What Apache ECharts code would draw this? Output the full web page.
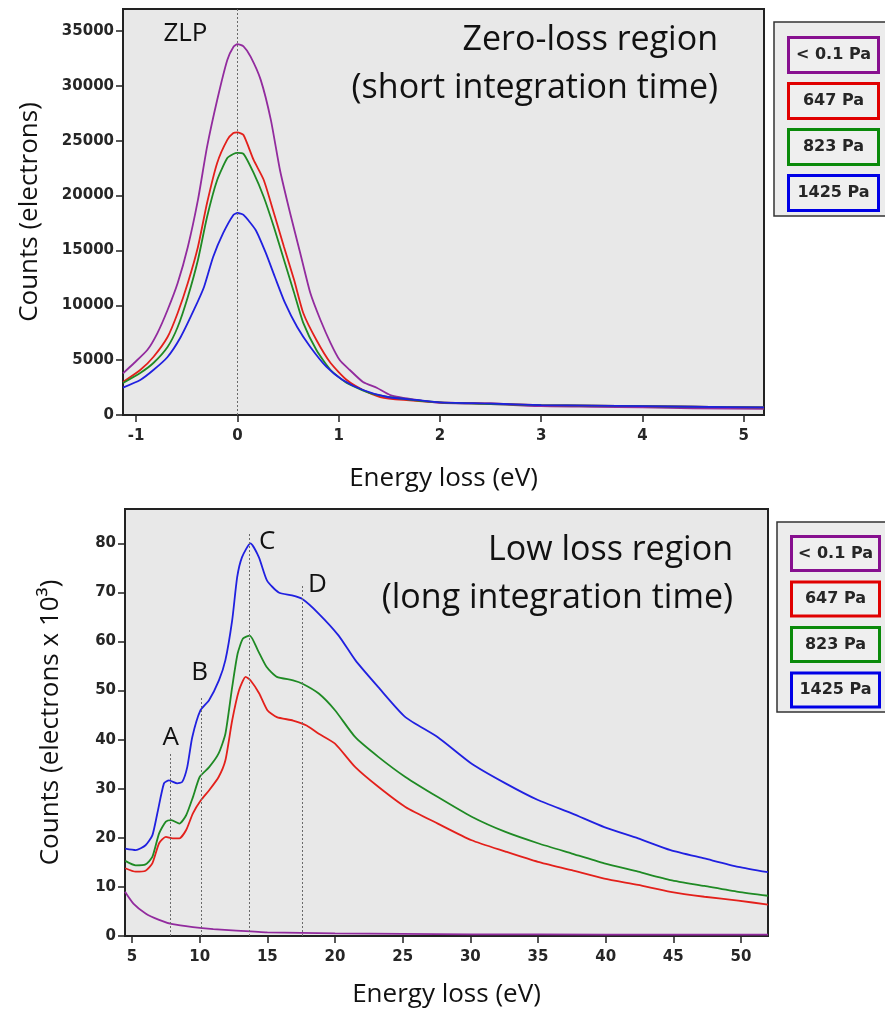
<!DOCTYPE html>
<html><head><meta charset="utf-8">
<script src="https://cdn.jsdelivr.net/npm/echarts@6/dist/echarts.min.js"></script>
<style>html,body{margin:0;padding:0;background:#fff}#c{width:885px;height:1010px}</style>
</head><body><div id="c"></div>
<script>
// ---------- data ----------
const seriesNames = ['< 0.1 Pa', '647 Pa', '823 Pa', '1425 Pa'];
const lineColors = ['#922b9e', '#e3201b', '#1f8a24', '#2020e0'];
const boxColors = ['#87108f', '#e00000', '#0a8a0a', '#0000e6'];

// Zero-loss region (counts in electrons)
const zlpPurpleE = [-1.13, -1.02, -0.89, -0.79, -0.69, -0.59, -0.49, -0.39, -0.3, -0.2, -0.1, -0.04, 0, 0.06, 0.13, 0.23, 0.33, 0.42, 0.52, 0.62, 0.72, 0.82, 0.92, 1.01, 1.11, 1.24, 1.38, 1.51, 1.77, 2.0, 2.5, 3.0, 3.5, 4.0, 4.5, 5.2];
const zlpPurpleV = [3800, 4740, 5920, 7470, 9570, 12030, 15310, 19600, 24430, 28710, 32360, 33540, 33800, 33600, 32660, 30540, 26900, 22330, 18410, 14770, 11120, 8660, 6560, 5010, 4100, 3010, 2460, 1820, 1370, 1100, 1000, 800, 750, 700, 600, 550];
const zlpRedE = [-1.13, -0.96, -0.83, -0.69, -0.59, -0.49, -0.39, -0.3, -0.2, -0.1, -0.04, 0, 0.06, 0.16, 0.26, 0.36, 0.46, 0.56, 0.65, 0.78, 0.92, 1.08, 1.24, 1.41, 1.64, 2.0, 2.5, 3.0, 3.5, 4.0, 4.5, 5.2];
const zlpRedV = [3010, 4100, 5290, 7110, 9300, 12030, 15310, 19320, 22970, 25070, 25700, 25750, 25520, 23240, 21420, 18410, 15310, 12300, 9300, 6840, 4740, 3190, 2280, 1640, 1370, 1150, 1050, 900, 850, 800, 750, 700];
const zlpGreenE = [-1.13, -0.96, -0.83, -0.69, -0.59, -0.49, -0.39, -0.3, -0.2, -0.1, -0.04, 0, 0.06, 0.16, 0.26, 0.36, 0.46, 0.56, 0.65, 0.78, 0.92, 1.08, 1.31, 1.57, 2.0, 2.5, 3.0, 3.5, 4.0, 4.5, 5.2];
const zlpGreenV = [2920, 3830, 4740, 6200, 8020, 10760, 14130, 18050, 21420, 23420, 23790, 23880, 23800, 22060, 19870, 17140, 14130, 11120, 8390, 5920, 4100, 2920, 2000, 1550, 1150, 1000, 900, 850, 800, 750, 700];
const zlpBlueE = [-1.13, -0.96, -0.83, -0.69, -0.56, -0.43, -0.33, -0.24, -0.14, -0.04, 0, 0.06, 0.18, 0.28, 0.37, 0.47, 0.59, 0.72, 0.88, 1.04, 1.24, 1.48, 1.77, 2.0, 2.5, 3.0, 3.5, 4.0, 4.5, 5.2];
const zlpBlueV = [2500, 3190, 4100, 5290, 7110, 9570, 11670, 14400, 16590, 18230, 18410, 18230, 16860, 14770, 12580, 10210, 8020, 6200, 4380, 3190, 2280, 1640, 1370, 1150, 1050, 900, 850, 800, 750, 700];

// Low-loss region (counts in electrons x 10^3)
const llPurpleE = [4.48, 5.1, 6.0, 7.0, 8.0, 9.5, 11.0, 12.7, 15.0, 20.0, 25.0, 30.0, 40.0, 52.0];
const llPurpleV = [9.0, 6.6, 4.6, 3.3, 2.4, 1.8, 1.4, 1.1, 0.75, 0.55, 0.45, 0.35, 0.3, 0.3];
const llRedE = [4.5, 5.27, 6.0, 6.5, 7.0, 7.5, 8.0, 8.5, 9.0, 9.5, 10.1, 10.7, 11.4, 11.9, 12.4, 12.9, 13.4, 13.75, 14.4, 15.0, 15.7, 16.9, 17.9, 18.8, 20.0, 21.5, 23.2, 25.2, 27.6, 30.1, 32.6, 35.0, 37.5, 39.9, 42.4, 44.8, 47.3, 49.8, 52];
const llRedV = [13.8, 13.1, 13.3, 14.8, 18.9, 20.2, 19.9, 19.9, 21.6, 25.0, 27.7, 29.7, 32.4, 35.8, 43.9, 50.0, 52.8, 52.1, 49.4, 46.0, 44.6, 43.9, 42.9, 41.2, 39.2, 34.4, 30.4, 26.3, 22.9, 19.5, 17.2, 15.1, 13.4, 11.7, 10.4, 9.0, 8.0, 7.2, 6.4];
const llGreenE = [4.5, 5.27, 6.0, 6.5, 7.0, 7.5, 7.9, 8.5, 9.0, 9.5, 10.0, 10.7, 11.4, 11.9, 12.4, 12.8, 13.2, 13.7, 14.3, 14.95, 15.7, 16.9, 17.6, 18.8, 20.0, 21.5, 23.2, 25.2, 27.6, 30.1, 32.6, 35.0, 37.5, 39.9, 42.4, 44.8, 47.3, 49.8, 52];
const llGreenV = [15.3, 14.4, 14.6, 16.1, 20.9, 23.3, 23.6, 22.9, 24.6, 28.3, 32.4, 34.4, 37.2, 41.2, 50.7, 57.5, 60.6, 61.2, 58.2, 54.8, 52.8, 52.1, 51.4, 49.4, 46.0, 40.5, 36.5, 32.4, 28.3, 24.3, 21.2, 18.9, 16.8, 14.8, 13.1, 11.4, 10.2, 9.0, 8.2];
const llBlueE = [4.5, 5.27, 6.0, 6.5, 6.87, 7.36, 7.73, 8.34, 8.71, 9.08, 9.45, 10.06, 10.68, 11.42, 11.9, 12.4, 12.77, 13.13, 13.75, 14.37, 14.98, 15.84, 16.82, 17.56, 18.79, 20.27, 21.5, 23.2, 25.2, 27.6, 30.1, 32.6, 35.0, 37.5, 39.9, 42.4, 44.8, 47.3, 49.8, 52];
const llBlueV = [17.8, 17.5, 18.5, 20.5, 25, 31.1, 31.7, 31.1, 31.4, 34.4, 40.5, 46, 48, 52.1, 56.2, 64.3, 73.1, 77.2, 80.0, 77.2, 72.4, 70.0, 69.4, 68.7, 65.7, 61.2, 56.2, 50.7, 44.6, 40.5, 35.1, 31.1, 27.7, 25.0, 22.2, 19.9, 17.5, 15.8, 14.1, 13.0];

// ticks
const zlpXTicks = [-1, 0, 1, 2, 3, 4, 5];
const zlpYTicks = [0, 5000, 10000, 15000, 20000, 25000, 30000, 35000];
const llXTicks = [5, 10, 15, 20, 25, 30, 35, 40, 45, 50];
const llYTicks = [0, 10, 20, 30, 40, 50, 60, 70, 80];

// annotations
const zlpMarkerE = 0;
const peakLabels = ['A', 'B', 'C', 'D'];
const peakEnergies = [7.85, 10.15, 13.65, 17.6];
const peakLineTops = [37.2, 48.6, 82.2, 71.4];

// ---------- chart ----------
const zip = (a, b) => a.map((x, i) => [x, b[i]]);
const tickFont = { fontFamily: 'DejaVu Sans', fontWeight: 'bold', fontSize: 15, color: '#262626' };
const nameFont = { fontFamily: 'Open Sans', fontSize: 26, color: '#111' };

function xAxisCfg(gi, min, max, ticks, gap) {
  return {
    gridIndex: gi, type: 'value', min: min, max: max,
    axisLine: { show: true, onZero: false, lineStyle: { color: '#222', width: 2 } },
    axisTick: { show: true, length: 7, customValues: ticks, lineStyle: { color: '#222', width: 1.5 } },
    axisLabel: Object.assign({ customValues: ticks, margin: 14, formatter: v => String(v) }, tickFont),
    splitLine: { show: false },
    name: 'Energy loss (eV)', nameLocation: 'middle', nameGap: gap, nameTextStyle: nameFont
  };
}
function yAxisCfg(gi, min, max, ticks, name, gap) {
  return {
    gridIndex: gi, type: 'value', min: min, max: max,
    axisLine: { show: true, onZero: false, lineStyle: { color: '#222', width: 2 } },
    axisTick: { show: true, length: 7, customValues: ticks, lineStyle: { color: '#222', width: 1.5 } },
    axisLabel: Object.assign({ customValues: ticks, margin: 9, formatter: v => String(v) }, tickFont),
    splitLine: { show: false },
    name: name, nameLocation: 'middle', nameRotate: 90, nameGap: gap, nameTextStyle: nameFont
  };
}
function lineSeries(name, idx, gi, data, extra) {
  return Object.assign({
    name: name, type: 'line', xAxisIndex: gi, yAxisIndex: gi, data: data,
    symbol: 'none', smooth: 0.2, animation: false,
    lineStyle: { color: lineColors[idx], width: 1.8 }, itemStyle: { color: lineColors[idx] },
    emphasis: { disabled: true }
  }, extra || {});
}
function legendCfg(gi, left, top, w, h, gap) {
  const rich = {};
  boxColors.forEach((c, i) => {
    rich['k' + i] = {
      width: w, height: h, lineHeight: h, align: 'center', verticalAlign: 'middle',
      borderColor: c, borderWidth: 3, backgroundColor: '#efefef',
      fontFamily: 'DejaVu Sans', fontWeight: 'bold', fontSize: 16, color: '#262626'
    };
  });
  return {
    orient: 'vertical', left: left, top: top, itemWidth: 0, itemHeight: 0, itemGap: gap,
    icon: 'rect', selectedMode: false, data: seriesNames, padding: 0, z: 5,
    formatter: n => '{k' + seriesNames.indexOf(n) + '|' + n + '}',
    textStyle: { rich: rich }
  };
}

const markLineStyle = { type: [2, 2], color: '#6a6a6a', width: 1 };

const chart = echarts.init(document.getElementById('c'), null, { renderer: 'canvas' });
chart.setOption({
  animation: false,
  backgroundColor: '#ffffff',
  grid: [
    { left: 123, top: 9, right: 121, bottom: 595, show: true, backgroundColor: '#e8e8e8', borderColor: '#222', borderWidth: 2, containLabel: false, outerBoundsMode: 'none' },
    { left: 125, top: 509, right: 117, bottom: 74, show: true, backgroundColor: '#e8e8e8', borderColor: '#222', borderWidth: 2, containLabel: false, outerBoundsMode: 'none' }
  ],
  xAxis: [xAxisCfg(0, -1.13, 5.2, zlpXTicks, 51), xAxisCfg(1, 4.48, 52, llXTicks, 46)],
  yAxis: [yAxisCfg(0, 0, 37000, zlpYTicks, 'Counts (electrons)', 80), yAxisCfg(1, 0, 87, llYTicks, 'Counts (electrons x 10³)', 61)],
  legend: [legendCfg(0, 785, 36, 87, 32, 8), legendCfg(1, 788, 535, 85, 31, 8.5)],
  series: [
    lineSeries(seriesNames[0], 0, 0, zip(zlpPurpleE, zlpPurpleV), {
      markLine: { silent: true, symbol: 'none', animation: false, label: { show: false }, lineStyle: markLineStyle, data: [{ xAxis: zlpMarkerE }] }
    }),
    lineSeries(seriesNames[1], 1, 0, zip(zlpRedE, zlpRedV)),
    lineSeries(seriesNames[2], 2, 0, zip(zlpGreenE, zlpGreenV)),
    lineSeries(seriesNames[3], 3, 0, zip(zlpBlueE, zlpBlueV)),
    lineSeries(seriesNames[0], 0, 1, zip(llPurpleE, llPurpleV), {
      markLine: {
        silent: true, symbol: 'none', animation: false, label: { show: false }, lineStyle: markLineStyle,
        data: peakEnergies.map((e, i) => [{ coord: [e, 0] }, { coord: [e, peakLineTops[i]] }])
      }
    }),
    lineSeries(seriesNames[1], 1, 1, zip(llRedE, llRedV)),
    lineSeries(seriesNames[2], 2, 1, zip(llGreenE, llGreenV)),
    lineSeries(seriesNames[3], 3, 1, zip(llBlueE, llBlueV))
  ]
});

// annotation texts positioned from the axes' scales
const letterOffsets = [[0, -16], [-2, -25], [18, 9], [15, -1]];
const annFont = '26px "Open Sans"';
const titleFont = '34px "Open Sans"';
const graphics = [
  { type: 'rect', z: 1, shape: { x: 774, y: 22, width: 130, height: 194 }, style: { fill: '#ececec', stroke: '#333', lineWidth: 1.5 } },
  { type: 'rect', z: 1, shape: { x: 777, y: 522, width: 130, height: 190 }, style: { fill: '#ececec', stroke: '#333', lineWidth: 1.5 } }
];
const zlpTop = chart.convertToPixel({ gridIndex: 0 }, [zlpMarkerE, 37000]);
graphics.push({ type: 'text', z: 10, x: zlpTop[0] - 52, y: zlpTop[1] + 25, style: { text: 'ZLP', font: annFont, fill: '#111', align: 'center', verticalAlign: 'middle' } });
peakLabels.forEach((lab, i) => {
  const p = chart.convertToPixel({ gridIndex: 1 }, [peakEnergies[i], peakLineTops[i]]);
  graphics.push({ type: 'text', z: 10, x: p[0] + letterOffsets[i][0], y: p[1] + letterOffsets[i][1], style: { text: lab, font: annFont, fill: '#111', align: 'center', verticalAlign: 'middle' } });
});
const titleLines = [
  ['Zero-loss region', 718, 40], ['(short integration time)', 718, 88],
  ['Low loss region', 733, 550], ['(long integration time)', 733, 598]
];
titleLines.forEach(t => graphics.push({ type: 'text', z: 10, x: t[1], y: t[2], style: { text: t[0], font: titleFont, fill: '#111', align: 'right', verticalAlign: 'middle' } }));
chart.setOption({ graphic: graphics });
</script>
</body></html>
